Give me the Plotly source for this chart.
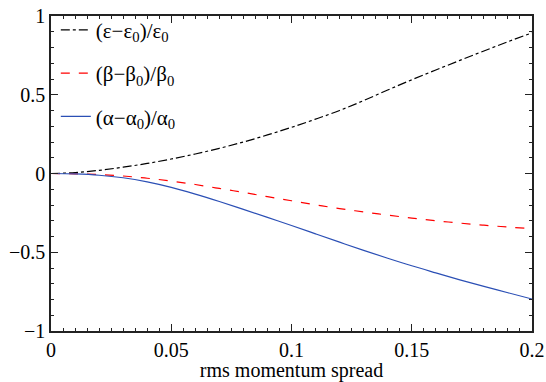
import plotly.graph_objects as go

x = [0, 0.01, 0.02, 0.03, 0.04, 0.05, 0.06, 0.07, 0.08, 0.09, 0.10,
     0.11, 0.12, 0.13, 0.14, 0.15, 0.16, 0.17, 0.18, 0.19, 0.20]
eps = [0, 0.006, 0.02, 0.04, 0.064, 0.092, 0.124, 0.16, 0.2, 0.245, 0.293,
       0.345, 0.40, 0.463, 0.53, 0.595, 0.657, 0.718, 0.778, 0.837, 0.893]
beta = [0, -0.002, -0.007, -0.016, -0.03, -0.048, -0.07, -0.095, -0.12, -0.147, -0.173,
        -0.199, -0.223, -0.244, -0.264, -0.283, -0.3, -0.315, -0.328, -0.34, -0.35]
alpha = [0, -0.003, -0.011, -0.027, -0.053, -0.088, -0.131, -0.178, -0.228, -0.279, -0.33,
         -0.383, -0.436, -0.488, -0.538, -0.586, -0.631, -0.675, -0.717, -0.757, -0.797]

names = ["(ε−ε<sub>0</sub>)/ε<sub>0</sub>",
         "(β−β<sub>0</sub>)/β<sub>0</sub>",
         "(α−α<sub>0</sub>)/α<sub>0</sub>"]

FONT = "Liberation Serif, Times New Roman, serif"
fig = go.Figure()
fig.add_trace(go.Scatter(x=x, y=eps, mode="lines", name=names[0], legendgroup="a",
                         line=dict(color="black", width=1.2, dash="dashdot", shape="spline")))
fig.add_trace(go.Scatter(x=x, y=beta, mode="lines", name=names[1], legendgroup="b",
                         line=dict(color="#ff0000", width=1.2, dash="dash", shape="spline")))
fig.add_trace(go.Scatter(x=x, y=alpha, mode="lines", name=names[2], legendgroup="c",
                         line=dict(color="#2b4fb5", width=1.2, shape="spline")))

axis_common = dict(showline=True, linecolor="#222", linewidth=1.5, mirror="allticks",
                   ticks="inside", ticklen=7, tickcolor="#222", tickwidth=1,
                   showgrid=False, zeroline=False, automargin=False,
                   ticklabeloverflow="allow",
                   tickfont=dict(family=FONT, size=20, color="black"))
fig.update_xaxes(range=[0, 0.2], dtick=0.05, tick0=0,
                 minor=dict(dtick=0.005, ticks="inside", ticklen=3, tickcolor="#222"),
                 title=dict(text="rms momentum spread", font=dict(family=FONT, size=20, color="black"),
                            standoff=0),
                 **axis_common)
fig.update_yaxes(range=[-1, 1], dtick=0.5, tick0=0,
                 minor=dict(dtick=0.1, ticks="inside", ticklen=3, tickcolor="#222"),
                 **axis_common)
fig.update_layout(width=546, height=382,
                  margin=dict(l=51, r=14, t=10, b=51),
                  paper_bgcolor="white", plot_bgcolor="white",
                  font=dict(family=FONT, size=20, color="black"),
                  legend=dict(x=0.01, y=1.02, xanchor="left", yanchor="top",
                              bgcolor="rgba(0,0,0,0)", tracegroupgap=13,
                              font=dict(family=FONT, size=21, color="black")),
                  )
fig.write_html("out.html")
